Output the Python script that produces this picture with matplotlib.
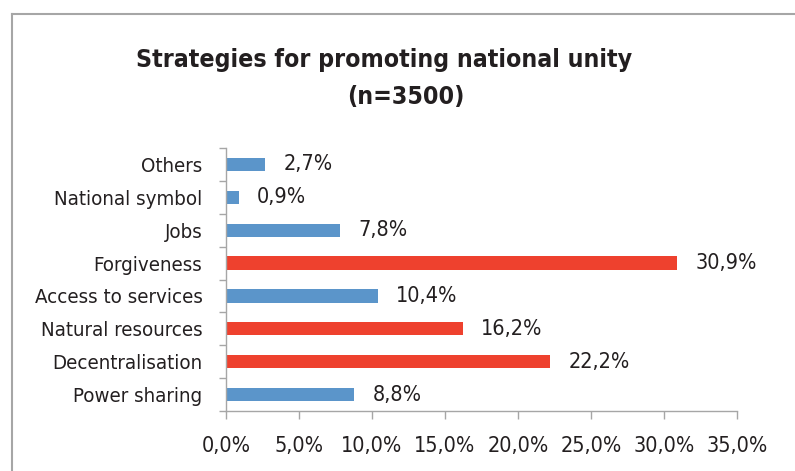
import matplotlib
matplotlib.use("Agg")
import matplotlib.pyplot as plt
from matplotlib.lines import Line2D

categories = ["Power sharing", "Decentralisation", "Natural resources",
              "Access to services", "Forgiveness", "Jobs",
              "National symbol", "Others"]
values = [8.8, 22.2, 16.2, 10.4, 30.9, 7.8, 0.9, 2.7]
highlight = [False, True, True, False, True, False, False, False]
xticks = [0, 5, 10, 15, 20, 25, 30, 35]

plt.rcParams["font.family"] = ["DejaVu Sans"]
plt.rcParams["font.stretch"] = "condensed"

BLUE = "#5B95CA"
RED = "#EE412E"
GRAY = "#A6A6A6"
TXT = "#231F20"

fig = plt.figure(figsize=(7.95, 4.71), dpi=100)
W, H = 795, 471
ax = fig.add_axes([226 / W, 1 - 411 / H, (737 - 226) / W, (411 - 148) / H])

colors = [RED if h else BLUE for h in highlight]
ypos = list(range(len(categories)))
ax.barh(ypos, values, height=0.4, color=colors)

for y, v in zip(ypos, values):
    ax.annotate(f"{v:.1f}%".replace(".", ","), (v, y), xytext=(13, 0),
                textcoords="offset points", va="center", ha="left",
                fontsize=15.5, color=TXT)

ax.set_xlim(0, 35)
ax.set_ylim(-0.5, len(categories) - 0.5)
ax.set_xticks(xticks)
ax.set_xticklabels([f"{t:.1f}%".replace(".", ",") for t in xticks],
                   fontsize=15.5, color=TXT)
ax.set_yticks(ypos)
ax.set_yticklabels(categories, fontsize=14.7, color=TXT)
ax.set_yticks([i - 0.5 for i in range(len(categories) + 1)], minor=True)
ax.tick_params(axis="y", which="major", length=0, pad=17)
ax.tick_params(axis="y", which="minor", length=5, color=GRAY, width=1)
ax.tick_params(axis="x", length=6, color=GRAY, width=1, pad=12)

for s in ["top", "right"]:
    ax.spines[s].set_visible(False)
for s in ["left", "bottom"]:
    ax.spines[s].set_color(GRAY)
    ax.spines[s].set_linewidth(1)

fig.text(384 / W, 1 - 60 / H, "Strategies for promoting national unity",
         ha="center", va="center", fontsize=17.8, fontweight="bold", color=TXT)
fig.text(406 / W, 1 - 97 / H, "(n=3500)",
         ha="center", va="center", fontsize=17.8, fontweight="bold", color=TXT)

# outer chart frame (top and left edges)
fig.add_artist(Line2D([12 / W, 1.0], [1 - 14 / H, 1 - 14 / H],
                      transform=fig.transFigure, color=GRAY, lw=1.5))
fig.add_artist(Line2D([12 / W, 12 / W], [0.0, 1 - 14 / H],
                      transform=fig.transFigure, color=GRAY, lw=1.5))

fig.savefig("out.png", dpi=100)
